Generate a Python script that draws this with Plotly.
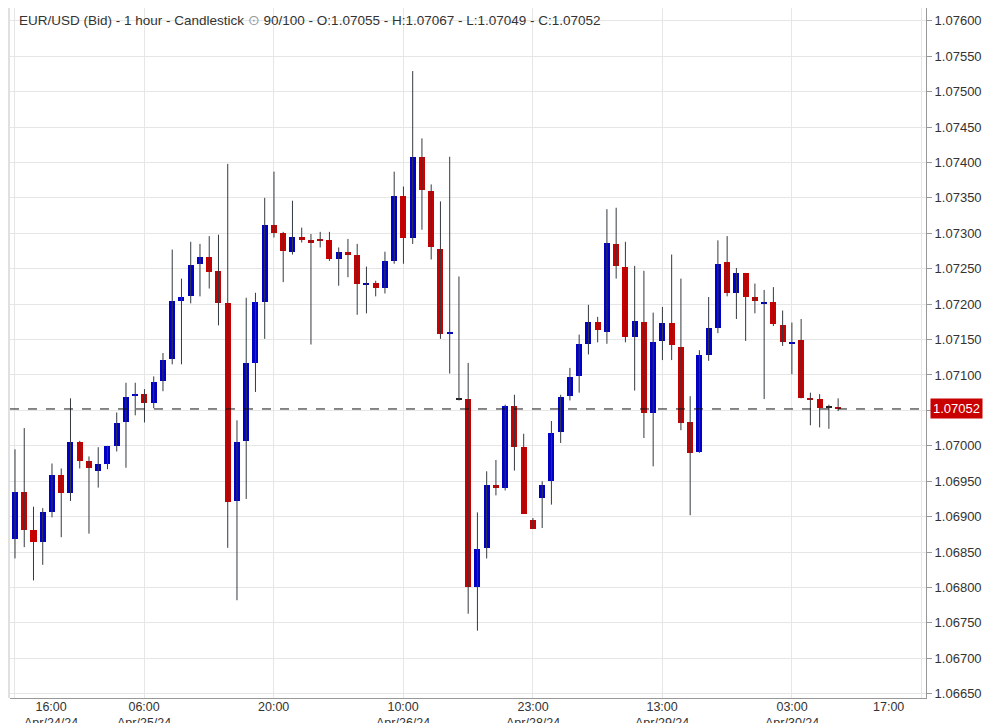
import plotly.graph_objects as go

# hourly EUR/USD bid candles
opens = [1.06869, 1.06935, 1.06881, 1.06864, 1.06906, 1.06959, 1.06934, 1.07006, 1.06978, 1.06965,
         1.06974, 1.07000, 1.07033, 1.07070, 1.07073, 1.07061, 1.07091, 1.07122, 1.07204, 1.07211,
         1.07257, 1.07267, 1.07247, 1.07202, 1.06922, 1.07007, 1.07117, 1.07203, 1.07312, 1.07301,
         1.07273, 1.07295, 1.07290, 1.07292, 1.07290, 1.07264, 1.07274, 1.07269, 1.07228, 1.07230,
         1.07223, 1.07261, 1.07353, 1.07294, 1.07408, 1.07360, 1.07278, 1.07158, 1.07066, 1.07066,
         1.06800, 1.06856, 1.06945, 1.06941, 1.07056, 1.06998, 1.06895, 1.06927, 1.06951, 1.07020,
         1.07071, 1.07098, 1.07144, 1.07175, 1.07161, 1.07285, 1.07253, 1.07153, 1.07175, 1.07046,
         1.07148, 1.07174, 1.07140, 1.07033, 1.06991, 1.07128, 1.07166, 1.07259, 1.07216, 1.07244,
         1.07210, 1.07201, 1.07203, 1.07171, 1.07146, 1.07149, 1.07068, 1.07066, 1.07055, 1.07055]
highs = [1.06995, 1.07025, 1.06914, 1.06912, 1.06975, 1.06968, 1.07067, 1.07007, 1.06985, 1.06998,
         1.07000, 1.07047, 1.07089, 1.07089, 1.07080, 1.07098, 1.07131, 1.07277, 1.07236, 1.07288,
         1.07285, 1.07296, 1.07298, 1.07398, 1.07036, 1.07209, 1.07216, 1.07350, 1.07387, 1.07302,
         1.07346, 1.07308, 1.07299, 1.07302, 1.07302, 1.07280, 1.07292, 1.07285, 1.07253, 1.07233,
         1.07274, 1.07387, 1.07366, 1.07529, 1.07434, 1.07369, 1.07345, 1.07408, 1.07239, 1.07117,
         1.06906, 1.06964, 1.06980, 1.07058, 1.07072, 1.07017, 1.06898, 1.06950, 1.07035, 1.07072,
         1.07110, 1.07157, 1.07199, 1.07182, 1.07334, 1.07336, 1.07288, 1.07254, 1.07247, 1.07188,
         1.07196, 1.07270, 1.07236, 1.07070, 1.07135, 1.07210, 1.07290, 1.07296, 1.07251, 1.07244,
         1.07229, 1.07220, 1.07224, 1.07191, 1.07174, 1.07179, 1.07075, 1.07073, 1.07058, 1.07067]
lows = [1.06841, 1.06857, 1.06810, 1.06832, 1.06899, 1.06871, 1.06922, 1.06968, 1.06876, 1.06941,
        1.06967, 1.06992, 1.06969, 1.07043, 1.07033, 1.07053, 1.07077, 1.07115, 1.07115, 1.07201,
        1.07211, 1.07222, 1.07170, 1.06856, 1.06782, 1.06925, 1.07076, 1.07151, 1.07294, 1.07231,
        1.07270, 1.07287, 1.07143, 1.07280, 1.07261, 1.07226, 1.07238, 1.07185, 1.07187, 1.07211,
        1.07215, 1.07257, 1.07257, 1.07285, 1.07305, 1.07263, 1.07151, 1.07102, 1.07064, 1.06763,
        1.06739, 1.06841, 1.06930, 1.06937, 1.06965, 1.06904, 1.06883, 1.06884, 1.06917, 1.07004,
        1.07064, 1.07075, 1.07129, 1.07146, 1.07144, 1.07236, 1.07146, 1.07078, 1.07011, 1.06971,
        1.07121, 1.07121, 1.07022, 1.06902, 1.06990, 1.07120, 1.07159, 1.07211, 1.07179, 1.07148,
        1.07187, 1.07066, 1.07169, 1.07141, 1.07101, 1.07067, 1.07029, 1.07026, 1.07024, 1.07049]
closes = [1.06935, 1.06881, 1.06864, 1.06906, 1.06959, 1.06933, 1.07006, 1.06978, 1.06968, 1.06975,
          1.07000, 1.07032, 1.07069, 1.07073, 1.07061, 1.07090, 1.07121, 1.07204, 1.07210, 1.07255,
          1.07267, 1.07246, 1.07202, 1.06921, 1.07005, 1.07117, 1.07203, 1.07311, 1.07301, 1.07275,
          1.07295, 1.07291, 1.07286, 1.07290, 1.07264, 1.07274, 1.07269, 1.07229, 1.07230, 1.07223,
          1.07261, 1.07353, 1.07294, 1.07408, 1.07361, 1.07280, 1.07158, 1.07161, 1.07066, 1.06800,
          1.06854, 1.06945, 1.06941, 1.07056, 1.06999, 1.06904, 1.06883, 1.06945, 1.07018, 1.07069,
          1.07097, 1.07144, 1.07175, 1.07163, 1.07286, 1.07254, 1.07154, 1.07176, 1.07047, 1.07147,
          1.07174, 1.07142, 1.07032, 1.06990, 1.07128, 1.07167, 1.07256, 1.07216, 1.07244, 1.07210,
          1.07205, 1.07203, 1.07172, 1.07147, 1.07148, 1.07068, 1.07066, 1.07054, 1.07055, 1.07052]

tick_pos = [0, 14, 28, 42, 56, 70, 84, 98]
tick_time = ["16:00", "06:00", "20:00", "10:00", "23:00", "13:00", "03:00", "17:00"]
tick_date = ["Apr/24/24", "Apr/25/24", "", "Apr/26/24", "Apr/28/24", "Apr/29/24", "Apr/30/24", ""]
last_price = closes[-1]

UP = "#0000c8"
DOWN = "#c80000"

idx = list(range(len(opens)))

# wicks
wx, wy = [], []
for i in idx:
    wx += [i, i, None]
    wy += [lows[i], highs[i], None]

# bodies
base, height, colors = [], [], []
for o, c in zip(opens, closes):
    lo = min(o, c)
    h = max(abs(c - o), 0.00002)
    base.append(lo if abs(c - o) >= 0.00002 else lo - 0.00001)
    height.append(h)
    colors.append(UP if c > o else (DOWN if c < o else "#222222"))

fig = go.Figure()
fig.add_trace(go.Scatter(x=wx, y=wy, mode="lines", line=dict(color="#333a3f", width=1),
                         hoverinfo="skip", showlegend=False))
fig.add_trace(go.Bar(x=idx, y=height, base=base, width=0.65, marker=dict(color=colors, line=dict(width=0)),
                     showlegend=False))

fig.add_shape(type="line", xref="paper", x0=0, x1=1, y0=last_price, y1=last_price,
              line=dict(color="#111", width=1, dash="dash"))

fig.add_annotation(xref="paper", x=1.004, y=last_price, xanchor="left", text="%.5f" % last_price,
                   showarrow=False, bgcolor="#c80000", font=dict(color="white", size=13, family="Arial"),
                   borderpad=2)

fig.add_annotation(xref="paper", yref="paper", x=0.008, y=0.995, xanchor="left", yanchor="top",
                   showarrow=False, align="left",
                   text="EUR/USD (Bid) - 1 hour - Candlestick <span style='color:#999'>⊙</span> 90/100 - O:%.5f - H:%.5f - L:%.5f - C:%.5f"
                        % (opens[-1], highs[-1], lows[-1], closes[-1]),
                   font=dict(size=13.5, color="#333", family="Arial"))

# x labels, first and last pulled inward like the original
label_x = [3.9, 14, 28, 42, 56, 70, 84, 94.4]
for lx, t, d in zip(label_x, tick_time, tick_date):
    fig.add_annotation(x=lx, yref="paper", y=-0.002, yanchor="top", showarrow=False,
                       text=t + ("<br>" + d if d else ""), font=dict(size=12.5, color="#333", family="Arial"),
                       borderpad=0)

fig.update_layout(
    width=992, height=723, plot_bgcolor="white", paper_bgcolor="white",
    margin=dict(l=2, r=74, t=0, b=33, autoexpand=False), bargap=0,
    font=dict(family="Arial", color="#333"),
    xaxis=dict(range=[-0.54, 98.5], tickvals=tick_pos, showticklabels=False, showgrid=True,
               gridcolor="#e6e6e6", zeroline=False, showline=True, linecolor="#999", mirror=False,
               ticks=""),
    yaxis=dict(side="right", range=[1.06644, 1.07618], dtick=0.0005, tick0=1.0665, tickformat=".5f",
               showgrid=True, gridcolor="#e6e6e6", zeroline=False, showline=True, linecolor="#999",
               ticks="outside", ticklen=5, tickcolor="#999", tickfont=dict(size=13, color="#333")),
)
fig.add_shape(type="rect", xref="paper", yref="paper", x0=-0.003, x1=0.0, y0=0, y1=1,
              fillcolor="#e0e0e0", line=dict(width=0))

fig.write_html("out.html")
